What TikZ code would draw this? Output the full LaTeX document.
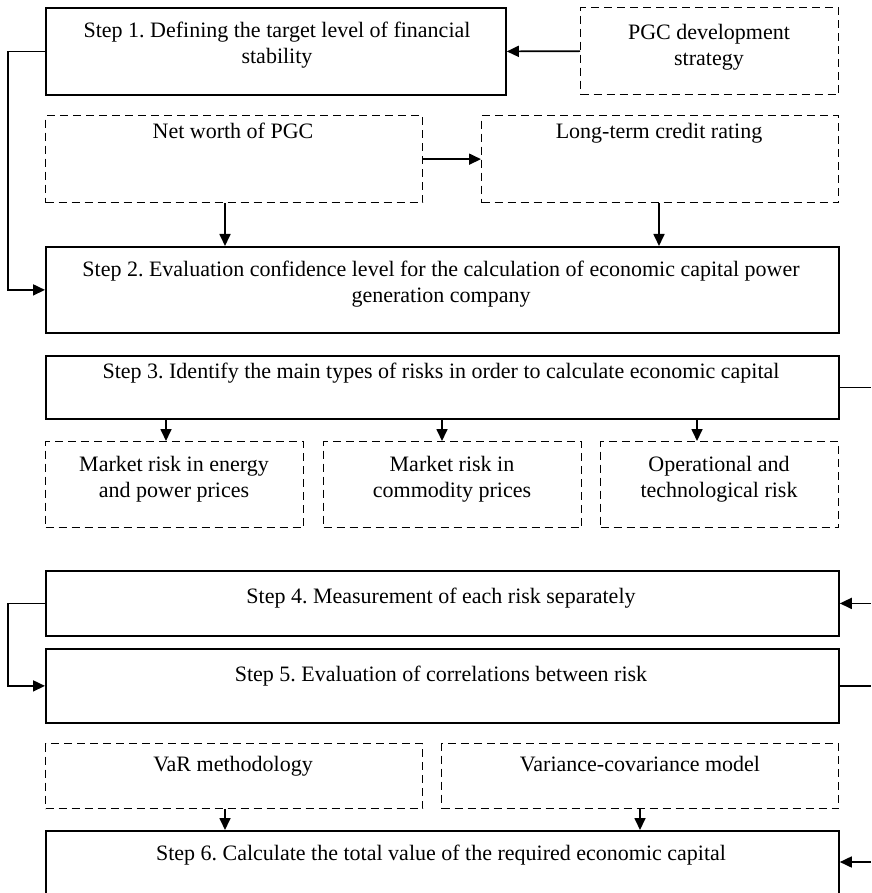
\documentclass[tikz,border=0pt]{standalone}
\usepackage{fontspec}
\setmainfont{Liberation Serif}
\usetikzlibrary{arrows.meta}
\begin{document}
\frenchspacing
\begin{tikzpicture}[x=1pt,y=-1pt,
  solidbox/.style={draw,line width=1.8pt,inner sep=0pt,anchor=north west},
  dashbox/.style={draw,line width=1.3pt,dash pattern=on 8pt off 5pt,inner sep=0pt,anchor=north west},
  txt/.style={align=center,anchor=base,inner sep=0pt,font=\fontsize{22}{26}\selectfont},
  conn/.style={line width=1.7pt},
  arr/.style={conn,-{Triangle[length=12pt,width=11pt]}}]
\useasboundingbox (0,0) rectangle (871,893);
% boxes
\node[solidbox,minimum width=460pt,minimum height=87pt] (s1) at (45,7) {};
\node[dashbox,minimum width=258pt,minimum height=87pt] (pgc) at (580,7) {};
\node[dashbox,minimum width=377pt,minimum height=87pt] (net) at (45,115) {};
\node[dashbox,minimum width=357pt,minimum height=87pt] (lt) at (481,115) {};
\node[solidbox,minimum width=793pt,minimum height=86pt] (s2) at (45,246) {};
\node[solidbox,minimum width=793pt,minimum height=63pt] (s3) at (45,355) {};
\node[dashbox,minimum width=258pt,minimum height=86pt] (r1) at (45,441) {};
\node[dashbox,minimum width=258pt,minimum height=86pt] (r2) at (323,441) {};
\node[dashbox,minimum width=238pt,minimum height=86pt] (r3) at (600,441) {};
\node[solidbox,minimum width=793pt,minimum height=65pt] (s4) at (45,570) {};
\node[solidbox,minimum width=793pt,minimum height=74pt] (s5) at (45,648) {};
\node[dashbox,minimum width=377pt,minimum height=65pt] (var) at (45,743) {};
\node[dashbox,minimum width=397pt,minimum height=65pt] (vc) at (441,743) {};
\node[solidbox,minimum width=793pt,minimum height=70pt] (s6) at (45,830) {};
% texts (base = baseline of last line)
\node[txt] (t1) at (277,64) {Step 1. Defining the target level of financial\\stability};
\node[txt] (tpgc) at (709,66) {PGC development\\strategy};
\node[txt] (tnet) at (233,139) {Net worth of PGC};
\node[txt] (tlt) at (659,139) {Long-term credit rating};
\node[txt] (t2) at (441,302) {Step 2. Evaluation confidence level for the calculation of economic capital power\\generation company};
\node[txt] (t3) at (441,378) {Step 3. Identify the main types of risks in order to calculate economic capital};
\node[txt] (tr1) at (174,497) {Market risk in energy\\and power prices};
\node[txt] (tr2) at (452,497) {Market risk in\\commodity prices};
\node[txt] (tr3) at (719,497) {Operational and\\technological risk};
\node[txt] (t4) at (441,603) {Step 4. Measurement of each risk separately};
\node[txt] (t5) at (441,681) {Step 5. Evaluation of correlations between risk};
\node[txt] (tvar) at (233,771) {VaR methodology};
\node[txt] (tvc) at (640,771) {Variance-covariance model};
\node[txt] (t6) at (441,860) {Step 6. Calculate the total value of the required economic capital};
% helper coordinates
\coordinate (L) at (8,0);
\coordinate (R) at (871,0);
\coordinate (xa) at (225,0);
\coordinate (xb) at (659,0);
\coordinate (xc) at (166,0);
\coordinate (xd) at (442,0);
\coordinate (xe) at (697,0);
\coordinate (xf) at (640,0);
% connectors
\draw[arr] (pgc.west) -- (s1.east);
\draw[arr] (s1.west) -- (s1.west -| L) |- (s2.west);
\draw[arr] (net.east) -- (lt.west);
\draw[arr] (net.south -| xa) -- (s2.north -| xa);
\draw[arr] (lt.south -| xb) -- (s2.north -| xb);
\draw[conn] (s3.east) -- (s3.east -| R);
\draw[arr] (s3.south -| xc) -- (r1.north -| xc);
\draw[arr] (s3.south -| xd) -- (r2.north -| xd);
\draw[arr] (s3.south -| xe) -- (r3.north -| xe);
\draw[arr] (s4.east -| R) -- (s4.east);
\draw[arr] (s4.west) -- (s4.west -| L) |- (s5.west);
\draw[conn] (s5.east) -- (s5.east -| R);
\draw[arr] (var.south -| xa) -- (s6.north -| xa);
\draw[arr] (vc.south -| xf) -- (s6.north -| xf);
\coordinate (R6) at (871,862);
\draw[arr] (R6) -- (R6 -| s6.east);
\end{tikzpicture}
\end{document}
